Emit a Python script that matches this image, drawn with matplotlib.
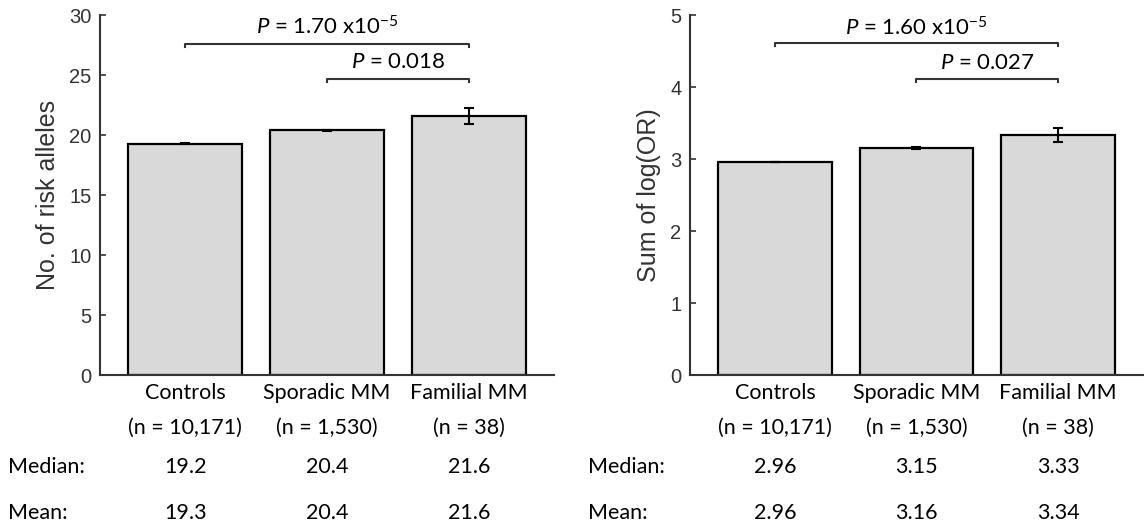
import matplotlib
matplotlib.use("Agg")
import matplotlib.pyplot as plt

plt.rcParams["mathtext.fontset"] = "custom"
plt.rcParams["mathtext.rm"] = "Lato"
plt.rcParams["mathtext.it"] = "Lato:italic"

# ---- data ----
groups = ["Controls", "Sporadic MM", "Familial MM"]
group_sizes = ["(n = 10,171)", "(n = 1,530)", "(n = 38)"]

alleles_mean = [19.3, 20.4, 21.6]
alleles_median = [19.2, 20.4, 21.6]
alleles_err = [0.05, 0.07, 0.65]
alleles_p = [r"$\mathit{P}$ = 1.70 x10$^{-5}$", r"$\mathit{P}$ = 0.018"]

logor_mean = [2.96, 3.16, 3.34]
logor_median = [2.96, 3.15, 3.33]
logor_err = [0.006, 0.012, 0.10]
logor_p = [r"$\mathit{P}$ = 1.60 x10$^{-5}$", r"$\mathit{P}$ = 0.027"]

AX_COLOR = "#333333"
LABEL_FONT = "Lato"
TICK_FONT = "Liberation Sans"

fig = plt.figure(figsize=(11.44, 5.27), dpi=100)
ax1 = fig.add_axes([0.0874, 0.2884, 0.3969, 0.6826])
ax2 = fig.add_axes([0.6031, 0.2884, 0.3960, 0.6826])


def draw_panel(ax, means, medians, errs, pvals, ymax, ystep, ylabel,
               bracket_y, text_y, table_x):
    x = [1, 2, 3]
    ax.bar(x, means, width=0.8, color="#d9d9d9", edgecolor="black",
           linewidth=1.6, zorder=2)
    ax.errorbar(x, means, yerr=errs, fmt="none", ecolor="black",
                elinewidth=1.5, capsize=3.5, capthick=1.5, zorder=3)
    ax.set_xlim(0.4, 3.6)
    ax.set_ylim(0, ymax)
    ax.set_yticks([i * ystep for i in range(int(round(ymax / ystep)) + 1)])
    ax.set_xticks([])
    for s in ("top", "right"):
        ax.spines[s].set_visible(False)
    for s in ("left", "bottom"):
        ax.spines[s].set_color(AX_COLOR)
        ax.spines[s].set_linewidth(1.5)
    ax.tick_params(axis="y", direction="in", length=4, width=1.2,
                   colors=AX_COLOR, labelsize=14.5, pad=6)
    for lab in ax.get_yticklabels():
        lab.set_fontfamily(TICK_FONT)
    ax.set_ylabel(ylabel, fontsize=18, family=TICK_FONT, color=AX_COLOR,
                  labelpad=7)

    # significance brackets: (start group, end group)
    pairs = [(1, 3), (2, 3)]
    tick = ymax * 0.008
    for (a, b), by, ty, ptxt in zip(pairs, bracket_y, text_y, pvals):
        ax.plot([a, a, b, b], [by - tick, by, by, by - tick], color=AX_COLOR,
                linewidth=1.5, clip_on=False, zorder=4)
        ax.text((a + b) / 2, ty, ptxt, ha="center", va="center",
                fontsize=16, family=LABEL_FONT, color="black")

    # category labels and summary table below the axis
    for xi, g, n, med, mn in zip(x, groups, group_sizes, medians, means):
        for txt, off in ((g, -13), (n, -38), (f"{med}", -66), (f"{mn}", -99)):
            ax.annotate(txt, xy=(xi, 0), xycoords=("data", "axes fraction"),
                        xytext=(0, off), textcoords="offset points",
                        ha="center", va="center", fontsize=15.5,
                        family=LABEL_FONT, color="black",
                        annotation_clip=False)
    fig.text(table_x, 0.1139, "Median:", ha="left", va="center",
             fontsize=15.5, family=LABEL_FONT)
    fig.text(table_x, 0.0266, "Mean:", ha="left", va="center",
             fontsize=15.5, family=LABEL_FONT)


draw_panel(ax1, alleles_mean, alleles_median, alleles_err, alleles_p,
           30, 5, "No. of risk alleles", [27.6, 24.7], [29.0, 26.1], 0.007)
draw_panel(ax2, logor_mean, logor_median, logor_err, logor_p,
           5, 1, "Sum of log(OR)", [4.61, 4.11], [4.83, 4.34], 0.514)

fig.savefig("out.png", dpi=100)
